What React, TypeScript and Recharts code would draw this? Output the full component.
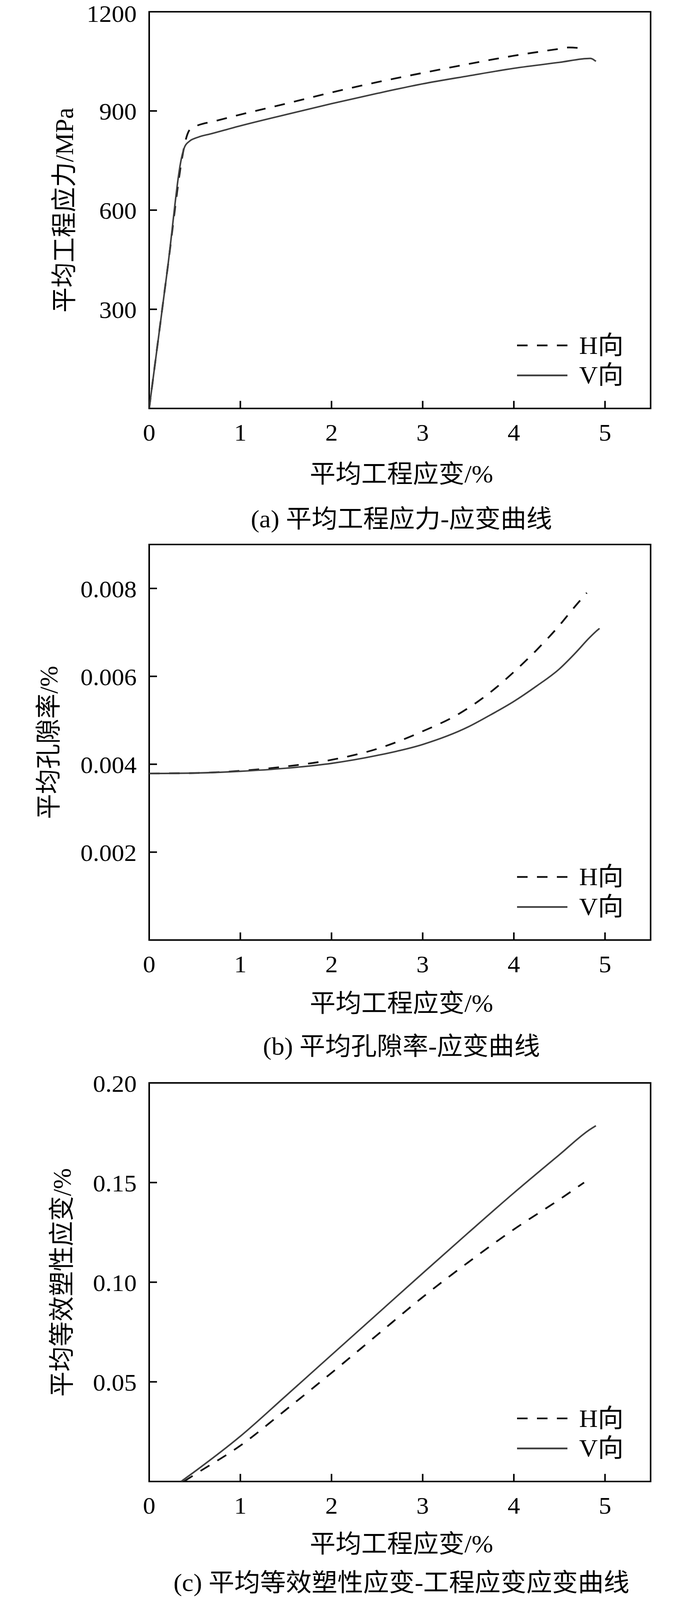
import React from "react";
import { LineChart, Line, XAxis, YAxis, ReferenceArea, Legend } from "recharts";

const FONT = "'Liberation Serif', 'Times New Roman', 'Noto Sans CJK SC', serif";
const W = 1772;
const H_PAGE = 4215;
// the photographed viewport is a little shorter than the page, so squeeze vertically to keep the bottom caption
const SY = 4100 / 4215;
const PLOT_LEFT = 382;
const PLOT_RIGHT = 1666;

const STRAIN_TICKS = [0, 1, 2, 3, 4, 5];

// (a) 平均工程应力-应变
const strainStressH = [0, 0.2, 0.37, 0.39, 0.42, 0.45, 0.55, 0.7, 1.0, 1.5, 2.0, 2.5, 3.0, 3.5, 4.0, 4.5, 4.6, 4.77];
const stressH = [0, 420, 772, 800, 830, 845, 858, 868, 889, 922, 956, 987, 1015, 1042, 1067, 1088, 1092, 1089];
const strainStressV = [0, 0.2, 0.365, 0.39, 0.44, 0.53, 0.68, 1.0, 1.5, 2.0, 2.5, 3.0, 3.5, 4.0, 4.5, 4.84, 4.9];
const stressV = [0, 420, 770, 792, 808, 820, 831, 855, 889, 922, 953, 982, 1006, 1029, 1047, 1059, 1050];

// (b) 平均孔隙率
const strainPoreH = [0, 0.5, 1, 1.5, 2, 2.5, 3, 3.4, 3.75, 4, 4.25, 4.5, 4.65, 4.8];
const poreH = [0.00379, 0.0038, 0.00385, 0.00395, 0.0041, 0.00435, 0.00475, 0.00515, 0.00565, 0.0061, 0.0066, 0.00716, 0.00754, 0.0079];
const strainPoreV = [0, 0.5, 1, 1.5, 2, 2.5, 3, 3.5, 3.75, 4, 4.25, 4.5, 4.67, 4.83, 4.9, 4.94];
const poreV = [0.00379, 0.0038, 0.00384, 0.00391, 0.00402, 0.0042, 0.00445, 0.00485, 0.00513, 0.00543, 0.00578, 0.00617, 0.00652, 0.00688, 0.00702, 0.00709];

// (c) 平均等效塑性应变
const strainPeH = [0.38, 0.5, 1, 1.5, 2, 2.5, 3, 3.5, 4, 4.5, 4.77];
const peH = [0, 0.0035, 0.018, 0.036, 0.0545, 0.0735, 0.0925, 0.11, 0.1265, 0.1415, 0.15];
const strainPeV = [0.35, 0.5, 1, 1.5, 2, 2.5, 3, 3.5, 4, 4.5, 4.84, 4.9];
const peV = [0, 0.005, 0.0227, 0.043, 0.0635, 0.084, 0.1045, 0.1248, 0.1448, 0.164, 0.1768, 0.1785];

const toPoints = (xs: number[], ys: number[]) => xs.map((x, i) => ({ x, y: ys[i] }));

function LegendBox(props: any) {
  const items = props.payload || [];
  return (
    <svg width={330} height={170}>
      {items.map((e: any, i: number) => {
        const cy = 40 + i * 79;
        return (
          <g key={i}>
            <line x1={4} x2={133} y1={cy} y2={cy} stroke={e.color} strokeWidth={4.5} strokeDasharray={e.payload?.strokeDasharray} />
            <text x={163} y={cy + 22} fontSize={66} fontFamily={FONT} fill="#000">{e.value}</text>
          </g>
        );
      })}
    </svg>
  );
}

interface PanelProps {
  top: number;
  marginTop: number;
  plotH: number;
  yDomain: [number, number];
  yTicks: number[];
  digits: number;
  hData: { x: number; y: number }[];
  vData: { x: number; y: number }[];
  yLabel: string;
  yLabelX: number;
  xLabelY: number;
  caption: string;
  captionY: number;
}

const textBox = (cx: number, cy: number, w: number): React.CSSProperties => ({
  position: "absolute",
  left: cx - w / 2,
  top: cy - 35,
  width: w,
  height: 70,
  lineHeight: "70px",
  textAlign: "center",
  fontSize: 66,
  fontFamily: FONT,
  whiteSpace: "nowrap",
});

function Panel(p: PanelProps) {
  const bottom = p.marginTop + p.plotH;
  const height = bottom + 120;
  const yMax = p.yDomain[1];

  const xTick = (t: any) => (
    <g>
      {t.payload.value > 0 && (
        <line x1={t.x} x2={t.x} y1={bottom} y2={bottom - 20} stroke="#000" strokeWidth={4} />
      )}
      <text x={t.x} y={bottom + 85} textAnchor="middle" fontSize={64} fontFamily={FONT} fill="#000">
        {t.payload.value}
      </text>
    </g>
  );

  const yTick = (t: any) => (
    <g>
      {t.payload.value < yMax * 0.999 && (
        <line x1={PLOT_LEFT} x2={PLOT_LEFT + 20} y1={t.y} y2={t.y} stroke="#000" strokeWidth={4} />
      )}
      <text
        x={PLOT_LEFT - 32}
        y={Math.max(t.y + 23, 58)}
        textAnchor="end"
        fontSize={64}
        fontFamily={FONT}
        fill="#000"
      >
        {p.digits === 0 ? t.payload.value : Number(t.payload.value).toFixed(p.digits)}
      </text>
    </g>
  );

  const plotMidY = p.top + p.marginTop + p.plotH / 2;

  return (
    <>
      <div style={{ position: "absolute", left: 0, top: p.top }}>
        <LineChart
          width={W}
          height={height}
          margin={{ top: p.marginTop, left: PLOT_LEFT - 1, right: W - PLOT_RIGHT, bottom: height - bottom - 1 }}
        >
          <XAxis
            type="number"
            dataKey="x"
            domain={[0, 5.5]}
            ticks={STRAIN_TICKS}
            tick={xTick}
            tickLine={false}
            axisLine={false}
            height={1}
            allowDataOverflow
          />
          <YAxis
            type="number"
            dataKey="y"
            domain={p.yDomain}
            ticks={p.yTicks}
            tick={yTick}
            tickLine={false}
            axisLine={false}
            width={1}
            allowDataOverflow
          />
          <ReferenceArea
            x1={0}
            x2={5.5}
            y1={p.yDomain[0]}
            y2={p.yDomain[1]}
            fill="none"
            stroke="#000"
            strokeWidth={4}
            ifOverflow="visible"
          />
          <Line
            data={p.hData}
            dataKey="y"
            name="H向"
            type="monotone"
            stroke="#111111"
            strokeWidth={4.5}
            strokeDasharray="27 24"
            dot={false}
            activeDot={false}
            isAnimationActive={false}
          />
          <Line
            data={p.vData}
            dataKey="y"
            name="V向"
            type="monotone"
            stroke="#3e3e3e"
            strokeWidth={4}
            dot={false}
            activeDot={false}
            isAnimationActive={false}
          />
          <Legend
            layout="vertical"
            align="center"
            verticalAlign="middle"
            content={LegendBox}
            wrapperStyle={{ left: 1320, top: bottom - 206, width: 330, height: 170 }}
          />
        </LineChart>
      </div>
      <div style={{ ...textBox(p.yLabelX, plotMidY, 900), transform: "rotate(-90deg)" }}>{p.yLabel}</div>
      <div style={textBox(1028, p.xLabelY, 1400)}>平均工程应变/%</div>
      <div style={textBox(1028, p.captionY, 1400)}>{p.caption}</div>
    </>
  );
}

export default function App() {
  return (
    <div
      style={{
        position: "absolute",
        left: 0,
        top: 0,
        width: W,
        height: H_PAGE,
        background: "#fff",
        color: "#000",
        transform: `scaleY(${SY})`,
        transformOrigin: "0 0",
      }}
    >
      <Panel
        top={0}
        marginTop={31}
        plotH={1044}
        yDomain={[0, 1200]}
        yTicks={[300, 600, 900, 1200]}
        digits={0}
        hData={toPoints(strainStressH, stressH)}
        vData={toPoints(strainStressV, stressV)}
        yLabel="平均工程应力/MPa"
        yLabelX={165}
        xLabelY={1248}
        caption="(a) 平均工程应力-应变曲线"
        captionY={1366}
      />
      <Panel
        top={1400}
        marginTop={33}
        plotH={1041}
        yDomain={[0, 0.009]}
        yTicks={[0.002, 0.004, 0.006, 0.008]}
        digits={3}
        hData={toPoints(strainPoreH, poreH)}
        vData={toPoints(strainPoreV, poreV)}
        yLabel="平均孔隙率/%"
        yLabelX={125}
        xLabelY={2641}
        caption="(b) 平均孔隙率-应变曲线"
        captionY={2754}
      />
      <Panel
        top={2800}
        marginTop={50}
        plotH={1049}
        yDomain={[0, 0.2]}
        yTicks={[0.05, 0.1, 0.15, 0.2]}
        digits={2}
        hData={toPoints(strainPeH, peH)}
        vData={toPoints(strainPeV, peV)}
        yLabel="平均等效塑性应变/%"
        yLabelX={159}
        xLabelY={4063}
        caption="(c) 平均等效塑性应变-工程应变应变曲线"
        captionY={4165}
      />
    </div>
  );
}
